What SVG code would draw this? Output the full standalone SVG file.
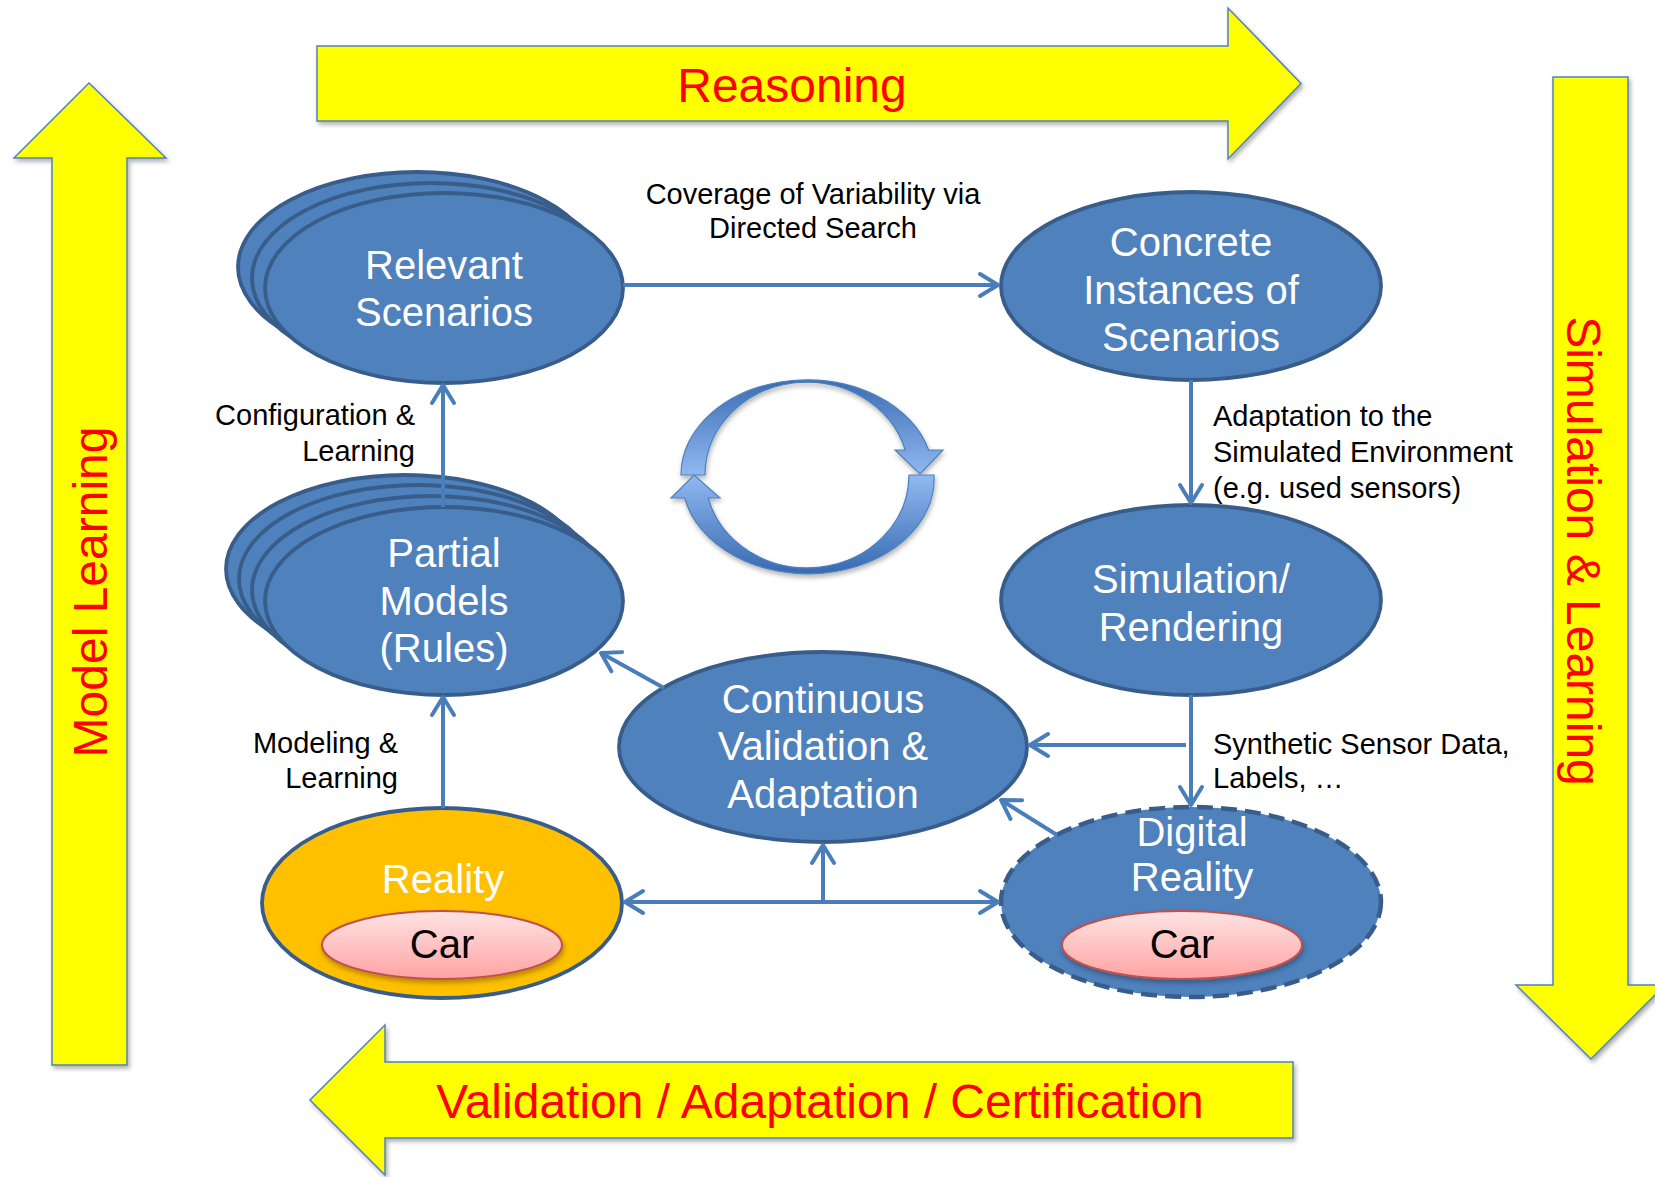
<svg xmlns="http://www.w3.org/2000/svg" width="1655" height="1177" viewBox="0 0 1655 1177">
  <defs>
    <style>
      .band { fill: #FFFF00; stroke: #4F81BD; stroke-width: 1.5; filter: url(#shadow); }
      .band-label { font-family: "Liberation Sans", Arial, sans-serif; font-size: 48px; fill: #FF0000; text-anchor: middle; }
      .node { fill: #4F81BD; stroke: #385D8A; stroke-width: 3.8; }
      .node-text { font-family: "Liberation Sans", Arial, sans-serif; font-size: 40px; fill: #FFFFFF; text-anchor: middle; }
      .car { fill: url(#carFill); stroke: #C0504D; stroke-width: 2; filter: url(#softShadow); }
      .car-text { font-family: "Liberation Sans", Arial, sans-serif; font-size: 40px; fill: #000000; text-anchor: middle; }
      .label { font-family: "Liberation Sans", Arial, sans-serif; font-size: 29px; fill: #000000; }
      .link { fill: none; stroke: #4A7EBB; stroke-width: 4; }
      .cycle { stroke: #4F81BD; stroke-width: 1.2; filter: url(#softShadow); }
    </style>
    <filter id="shadow" x="-10%" y="-10%" width="120%" height="130%">
      <feDropShadow dx="2" dy="3" stdDeviation="2" flood-color="#000000" flood-opacity="0.3"/>
    </filter>
    <filter id="softShadow" x="-10%" y="-10%" width="120%" height="130%">
      <feDropShadow dx="1" dy="3" stdDeviation="2.5" flood-color="#000000" flood-opacity="0.3"/>
    </filter>
    <linearGradient id="carFill" x1="0" y1="0" x2="0" y2="1">
      <stop offset="0" stop-color="#FFE3E3"/>
      <stop offset="1" stop-color="#FFA3A3"/>
    </linearGradient>
    <linearGradient id="cycleTop" gradientUnits="userSpaceOnUse" x1="0" y1="380" x2="0" y2="478">
      <stop offset="0" stop-color="#3A6DB3"/>
      <stop offset="1" stop-color="#93BBF2"/>
    </linearGradient>
    <linearGradient id="cycleBottom" gradientUnits="userSpaceOnUse" x1="0" y1="570" x2="0" y2="472">
      <stop offset="0" stop-color="#3A6DB3"/>
      <stop offset="1" stop-color="#93BBF2"/>
    </linearGradient>
    <marker id="head" viewBox="-22 -14 26 28" refX="0" refY="0" markerWidth="26" markerHeight="28" markerUnits="userSpaceOnUse" orient="auto-start-reverse">
      <path d="M-18,-11 L0,0 L-18,11" fill="none" stroke="#4A7EBB" stroke-width="4" stroke-linecap="round" stroke-linejoin="round"/>
    </marker>
  </defs>

  <!-- Large yellow process arrows -->
  <g id="reasoning">
    <path class="band" d="M317,46 L1228,46 L1228,8 L1301,83.5 L1228,159 L1228,121 L317,121 Z"/>
    <text class="band-label" x="792" y="102">Reasoning</text>
  </g>
  <g id="simulation-learning">
    <path class="band" d="M1553,77 L1628,77 L1628,985 L1665,985 L1591,1059 L1516,985 L1553,985 Z"/>
    <text class="band-label" transform="translate(1567,551) rotate(90)">Simulation &amp; Learning</text>
  </g>
  <g id="validation-adaptation-certification">
    <path class="band" d="M1293,1062 L385,1062 L385,1025 L310,1100 L385,1175 L385,1138 L1293,1138 Z"/>
    <text class="band-label" x="820" y="1118">Validation / Adaptation / Certification</text>
  </g>
  <g id="model-learning">
    <path class="band" d="M89,83 L166,158 L127,158 L127,1065 L52,1065 L52,158 L14,158 Z"/>
    <text class="band-label" transform="translate(107,592) rotate(-90)">Model Learning</text>
  </g>

  <!-- Central cycle symbol -->
  <g id="cycle">
    <path class="cycle" fill="url(#cycleTop)" d="M681,475 A126 95 0 0 1 928.6,450 L943,450 L920,474 L895,450 L905.2,450 A102 93 0 0 0 705,475 Z"/>
    <path class="cycle" fill="url(#cycleBottom)" d="M934,475 A126 95 0 0 1 684.7,498 L671,498 L694,475 L720,498 L708.2,498 A102 93 0 0 0 909,475 Z"/>
  </g>

  <!-- Nodes -->
  <g id="relevant-scenarios">
    <ellipse class="node" cx="417" cy="267" rx="179" ry="95"/>
    <ellipse class="node" cx="431" cy="278" rx="179" ry="95"/>
    <ellipse class="node" cx="444" cy="288" rx="179" ry="95"/>
    <text class="node-text" x="444" y="279">Relevant</text>
    <text class="node-text" x="444" y="326">Scenarios</text>
  </g>

  <g id="concrete-instances">
    <ellipse class="node" cx="1191" cy="286" rx="190" ry="94"/>
    <text class="node-text" x="1191" y="256">Concrete</text>
    <text class="node-text" x="1191" y="304">Instances of</text>
    <text class="node-text" x="1191" y="351">Scenarios</text>
  </g>

  <g id="simulation-rendering">
    <ellipse class="node" cx="1191" cy="600" rx="190" ry="95"/>
    <text class="node-text" x="1191" y="593">Simulation/</text>
    <text class="node-text" x="1191" y="641">Rendering</text>
  </g>

  <g id="partial-models">
    <ellipse class="node" cx="405" cy="569" rx="179" ry="94"/>
    <ellipse class="node" cx="418" cy="579" rx="179" ry="94"/>
    <ellipse class="node" cx="431" cy="590" rx="179" ry="94"/>
    <ellipse class="node" cx="444" cy="601" rx="179" ry="94"/>
    <text class="node-text" x="444" y="567">Partial</text>
    <text class="node-text" x="444" y="615">Models</text>
    <text class="node-text" x="444" y="662">(Rules)</text>
  </g>

  <g id="continuous-validation">
    <ellipse class="node" cx="823" cy="747" rx="204" ry="95"/>
    <text class="node-text" x="823" y="713">Continuous</text>
    <text class="node-text" x="823" y="760">Validation &amp;</text>
    <text class="node-text" x="823" y="808">Adaptation</text>
  </g>

  <g id="reality">
    <ellipse class="node" cx="442" cy="903" rx="180" ry="95" style="fill:#FFC000"/>
    <text class="node-text" x="443" y="893">Reality</text>
    <ellipse class="car" cx="442" cy="945" rx="120" ry="34"/>
    <text class="car-text" x="442" y="958">Car</text>
  </g>

  <g id="digital-reality">
    <ellipse class="node" cx="1191" cy="902" rx="190" ry="95" style="stroke-width:4.5;stroke-dasharray:16 8"/>
    <text class="node-text" x="1192" y="846">Digital</text>
    <text class="node-text" x="1192" y="891">Reality</text>
    <ellipse class="car" cx="1182" cy="945" rx="120" ry="34"/>
    <text class="car-text" x="1182" y="958">Car</text>
  </g>

  <!-- Connectors -->
  <g id="connectors">
    <line class="link" x1="623" y1="285" x2="998" y2="285" marker-end="url(#head)"/>
    <line class="link" x1="1191" y1="380" x2="1191" y2="503" marker-end="url(#head)"/>
    <line class="link" x1="443" y1="507" x2="443" y2="385" marker-end="url(#head)"/>
    <line class="link" x1="443" y1="808" x2="443" y2="697" marker-end="url(#head)"/>
    <line class="link" x1="1191" y1="695" x2="1191" y2="805" marker-end="url(#head)"/>
    <line class="link" x1="1186" y1="745" x2="1030" y2="745" marker-end="url(#head)"/>
    <line class="link" x1="664" y1="688" x2="601" y2="653" marker-end="url(#head)"/>
    <line class="link" x1="1057" y1="835" x2="1001" y2="800" marker-end="url(#head)"/>
    <line class="link" x1="625" y1="902" x2="998" y2="902" marker-start="url(#head)" marker-end="url(#head)"/>
    <line class="link" x1="823" y1="902" x2="823" y2="845" marker-end="url(#head)"/>
  </g>

  <!-- Connector labels -->
  <g id="labels">
    <text class="label" x="813" y="204" text-anchor="middle">Coverage of Variability via</text>
    <text class="label" x="813" y="238" text-anchor="middle">Directed Search</text>
    <text class="label" x="415" y="425" text-anchor="end">Configuration &amp;</text>
    <text class="label" x="415" y="461" text-anchor="end">Learning</text>
    <text class="label" x="398" y="753" text-anchor="end">Modeling &amp;</text>
    <text class="label" x="398" y="788" text-anchor="end">Learning</text>
    <text class="label" x="1213" y="426">Adaptation to the</text>
    <text class="label" x="1213" y="462">Simulated Environment</text>
    <text class="label" x="1213" y="498">(e.g. used sensors)</text>
    <text class="label" x="1213" y="754">Synthetic Sensor Data,</text>
    <text class="label" x="1213" y="788">Labels, …</text>
  </g>
</svg>
